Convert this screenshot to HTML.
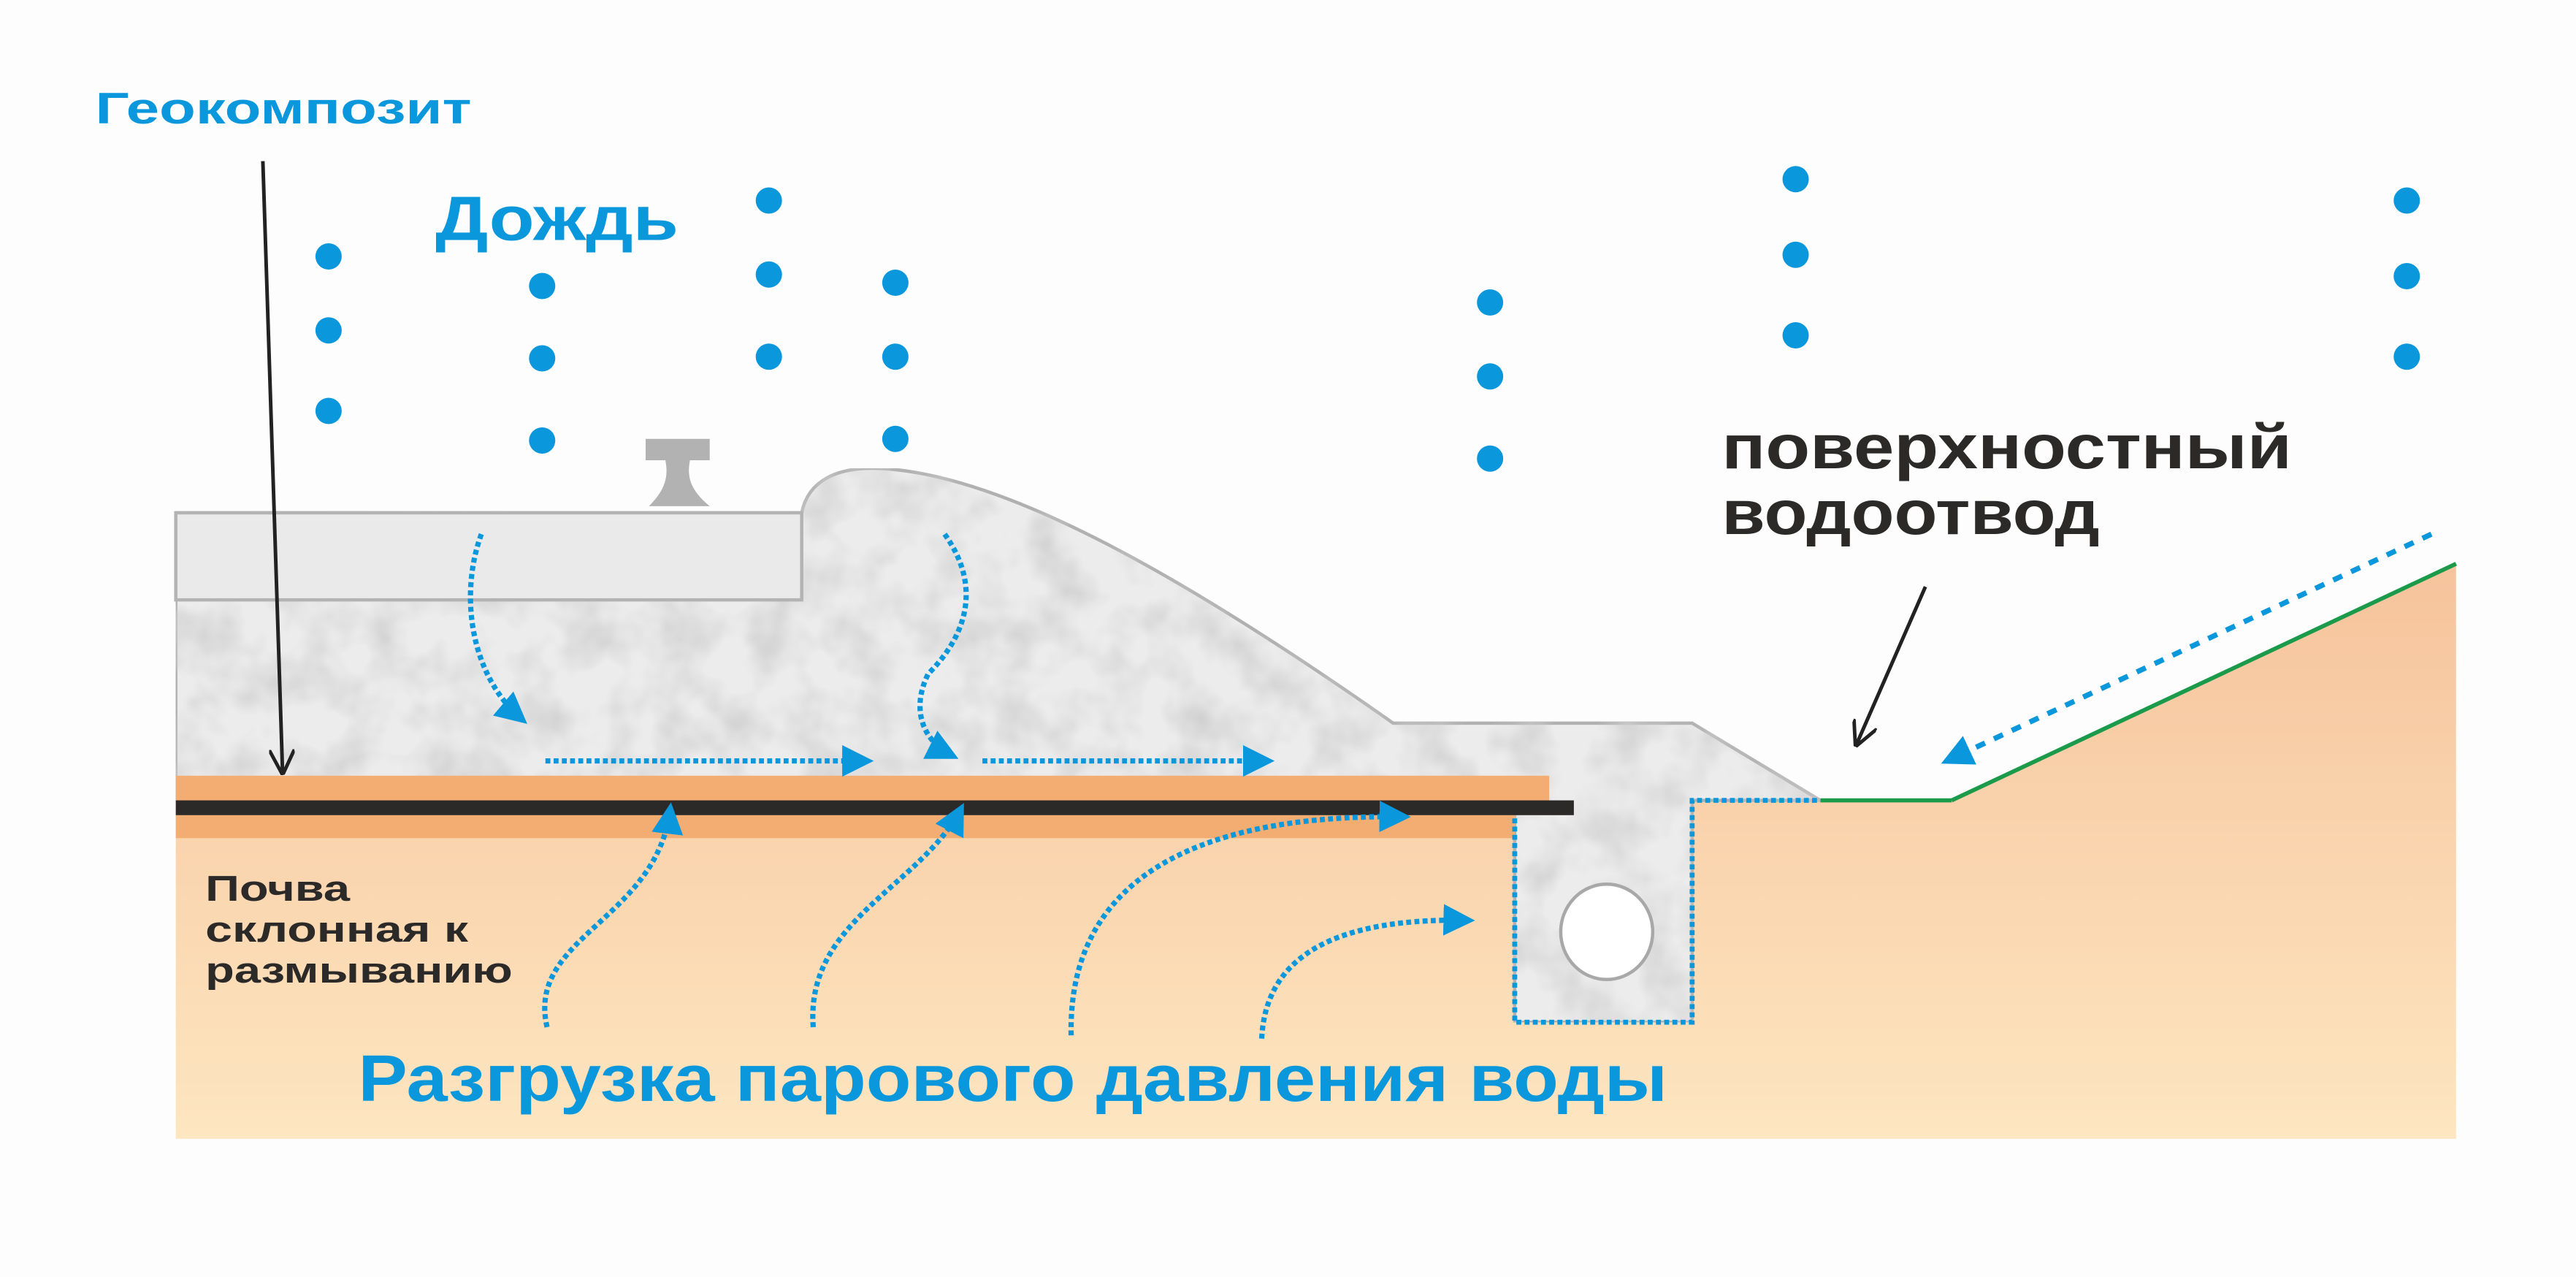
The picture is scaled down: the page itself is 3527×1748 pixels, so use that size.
<!DOCTYPE html>
<html><head><meta charset="utf-8"><style>
html,body{margin:0;padding:0;background:#fdfdfd;}
svg{display:block;}
text{font-family:"Liberation Sans",sans-serif;font-weight:bold;}
</style></head><body>
<svg width="3527" height="1748" viewBox="0 0 1568 777" xmlns="http://www.w3.org/2000/svg">
<defs>
<linearGradient id="soil2" x1="0" y1="343" x2="0" y2="693" gradientUnits="userSpaceOnUse">
<stop offset="0" stop-color="#f6c39c"/><stop offset="1" stop-color="#fde6c0"/>
</linearGradient>
<filter id="tex" x="0" y="0" width="100%" height="100%">
<feTurbulence type="fractalNoise" baseFrequency="0.035" numOctaves="3" seed="3" result="n"/>
<feColorMatrix in="n" type="matrix" values="0 0 0 0 0.6  0 0 0 0 0.6  0 0 0 0 0.6  1.6 0 0 0 -0.6" result="g"/>
<feComposite in="g" in2="SourceGraphic" operator="in" result="t"/>
<feMerge><feMergeNode in="SourceGraphic"/><feMergeNode in="t"/></feMerge>
</filter>
<marker id="ab" viewBox="0 0 10 10" refX="8" refY="5" markerWidth="6" markerHeight="6" orient="auto"><path d="M0,0 L10,5 L0,10 z" fill="#0a97dc"/></marker>
<marker id="ak" viewBox="0 0 10 10" refX="9" refY="5" markerWidth="7" markerHeight="7" orient="auto"><path d="M0,0 L10,5 L0,10" fill="none" stroke="#222" stroke-width="1.4"/></marker>
</defs>
<rect width="1568" height="777" fill="#fdfdfd"/>
<path d="M107,487 L1030,487 L1188,487 L1495,343 L1495,693 L107,693 Z" fill="url(#soil2)"/>
<line x1="1108" y1="487" x2="1188" y2="487" stroke="#1a9a4a" stroke-width="2.5"/>
<line x1="1188" y1="487" x2="1495" y2="343" stroke="#1a9a4a" stroke-width="2.5"/>
<path d="M107,312 L488,312 C492,292 510,284 535,285 C610,288 720,350 848,440 L1030,440 L1108,487 L1030,487 L1030,622 L922,622 L922,487 L107,487 Z" fill="#ececec" stroke="#b0b0b0" stroke-width="2" filter="url(#tex)"/>
<rect x="107" y="312" width="381" height="53" fill="#e9eae9" stroke="#b3b3b3" stroke-width="2"/>
<path d="M393,267 L432,267 L432,280 L420,280 C418,290 420,298 432,308 L395,308 C405,298 407,290 405,280 L393,280 Z" fill="#b2b2b2"/>
<rect x="107" y="472" width="836" height="16" fill="#f3ad72"/>
<rect x="107" y="496" width="815" height="14" fill="#f3ad72"/>
<rect x="107" y="487" width="851" height="9" fill="#2b2a29"/>
<ellipse cx="978" cy="567" rx="28" ry="29" fill="#fff" stroke="#a8a8a8" stroke-width="2"/>
<path d="M922,498 L922,622 L1030,622 L1030,487 L1108,487" fill="none" stroke="#0a97dc" stroke-width="3" stroke-dasharray="3,2"/>
<g fill="#0a97dc">
<circle cx="200" cy="156" r="8"/><circle cx="200" cy="201" r="8"/><circle cx="200" cy="250" r="8"/>
<circle cx="330" cy="174" r="8"/><circle cx="330" cy="218" r="8"/><circle cx="330" cy="268" r="8"/>
<circle cx="468" cy="122" r="8"/><circle cx="468" cy="167" r="8"/><circle cx="468" cy="217" r="8"/>
<circle cx="545" cy="172" r="8"/><circle cx="545" cy="217" r="8"/><circle cx="545" cy="267" r="8"/>
<circle cx="907" cy="184" r="8"/><circle cx="907" cy="229" r="8"/><circle cx="907" cy="279" r="8"/>
<circle cx="1093" cy="109" r="8"/><circle cx="1093" cy="155" r="8"/><circle cx="1093" cy="204" r="8"/>
<circle cx="1465" cy="122" r="8"/><circle cx="1465" cy="168" r="8"/><circle cx="1465" cy="217" r="8"/>
</g>
<g fill="none" stroke="#0a97dc" stroke-width="3.2" stroke-dasharray="3,2" marker-end="url(#ab)">
<path d="M293,325 C280,360 285,410 318,438"/>
<path d="M332,463 L528,463"/>
<path d="M575,325 C600,360 585,390 565,410 C555,430 560,450 580,460"/>
<path d="M598,463 L772,463"/>
<path d="M333,625 C320,570 400,560 408,492"/>
<path d="M495,625 C490,560 560,540 585,492"/>
<path d="M652,630 C650,540 720,495 855,497"/>
<path d="M768,632 C770,590 800,558 894,560"/>
</g>
<path d="M1480,325 L1185,463" fill="none" stroke="#0a97dc" stroke-width="3.2" stroke-dasharray="6,6" marker-end="url(#ab)"/>
<g stroke="#222" stroke-width="2.2" fill="none" marker-end="url(#ak)">
<path d="M160,98 L172,470"/>
<path d="M1172,357 L1130,453"/>
</g>
<text x="58" y="75" font-size="27" fill="#0a97dc" textLength="229" lengthAdjust="spacingAndGlyphs">Геокомпозит</text>
<text x="265" y="146" font-size="38" fill="#0a97dc" textLength="148" lengthAdjust="spacingAndGlyphs">Дождь</text>
<text x="1048" y="285" font-size="38" fill="#2b2a29" textLength="347" lengthAdjust="spacingAndGlyphs">поверхностный</text>
<text x="1048" y="325" font-size="38" fill="#2b2a29" textLength="230" lengthAdjust="spacingAndGlyphs">водоотвод</text>
<text x="125" y="548" font-size="22" fill="#2b2a29" textLength="88" lengthAdjust="spacingAndGlyphs">Почва</text>
<text x="125" y="573" font-size="22" fill="#2b2a29" textLength="160" lengthAdjust="spacingAndGlyphs">склонная к</text>
<text x="125" y="598" font-size="22" fill="#2b2a29" textLength="187" lengthAdjust="spacingAndGlyphs">размыванию</text>
<text x="218" y="670" font-size="40" fill="#0a97dc" textLength="797" lengthAdjust="spacingAndGlyphs">Разгрузка парового давления воды</text>
</svg>
</body></html>
